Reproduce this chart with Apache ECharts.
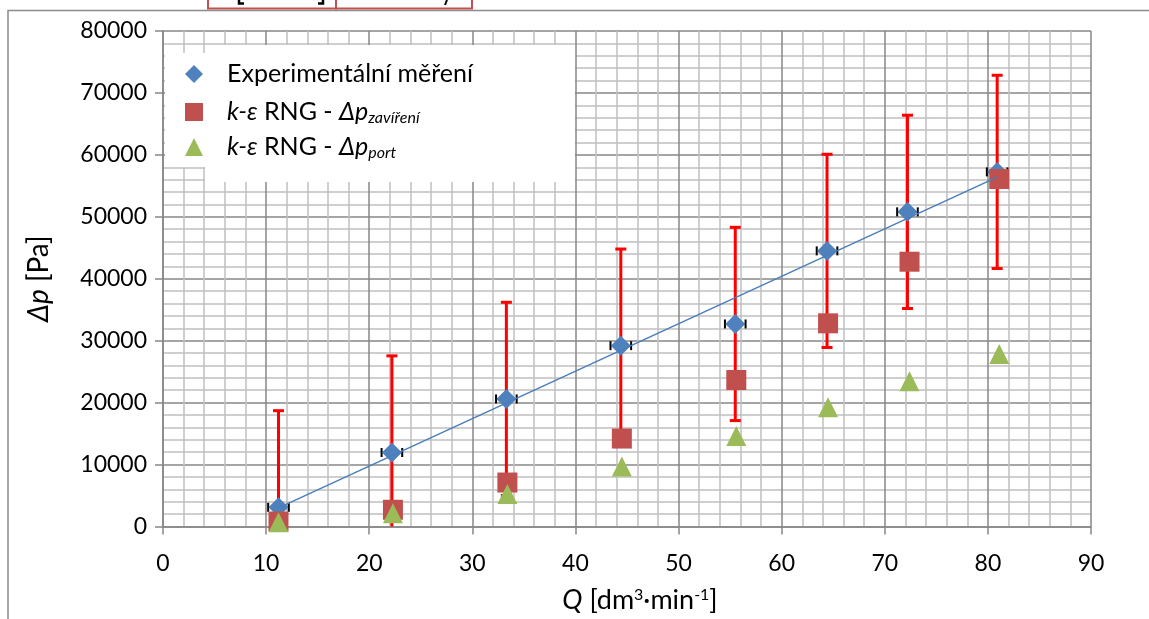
<!DOCTYPE html>
<html><head><meta charset="utf-8">
<script src="https://cdn.jsdelivr.net/npm/echarts@6/dist/echarts.min.js"></script>
<style>html,body{margin:0;padding:0;background:#fff}#c{width:1149px;height:619px}</style>
</head><body><div id="c"></div><script>
// ---- data ----
const expX    = [11.2, 22.2, 33.3, 44.4, 55.5, 64.4, 72.2, 80.9];
const expY    = [3100, 11950, 20600, 29200, 32700, 44500, 50800, 57250];
const expErrX = [1, 1, 1, 1, 1, 1, 1, 1];
const expErrY = [15600, 15600, 15600, 15600, 15600, 15600, 15600, 15600];
const simX    = [11.2, 22.3, 33.4, 44.5, 55.6, 64.5, 72.4, 81.1];
const closeY  = [800, 2700, 7100, 14200, 23650, 32800, 42750, 56100];
const portY   = [700, 2150, 5250, 9700, 14600, 19250, 23450, 27850];
const trendX  = [11.2, 80.9];
const trendY  = [3000, 56400];
const xRange  = [0, 90, 10];
const yRange  = [0, 80000, 10000];
const NAME_EXP = 'Experimentální měření';
const NAME_CLOSE = 'k-ε RNG - Δp zavíření';
const NAME_PORT = 'k-ε RNG - Δp port';

const FONT = 'Lato';
const zip = (a, b) => a.map((v, i) => [v, b[i]]);

const chart = echarts.init(document.getElementById('c'), null, {renderer: 'canvas'});

const legendRich = {
  n: {fontFamily: FONT, fontSize: 25, color: '#000'},
  i: {fontFamily: FONT, fontSize: 25, color: '#000', fontStyle: 'italic'},
  s: {fontFamily: FONT, fontSize: 16, color: '#000', fontStyle: 'italic', padding: [12, 0, 0, 0]}
};
const legendFmt = {
  [NAME_EXP]: '{n|Experimentální měření}',
  [NAME_CLOSE]: '{i|k-ε}{n| RNG - }{i|Δp}{s|zavíření}',
  [NAME_PORT]: '{i|k-ε}{n| RNG - }{i|Δp}{s|port}'
};
function mkLegend(name, icon, centerY) {
  return {
    orient: 'vertical', left: 185, top: centerY - 14,
    itemWidth: 18, itemHeight: 18, padding: 0,
    data: [{name: name, icon: icon}],
    selectedMode: false,
    formatter: n => legendFmt[n],
    textStyle: {rich: legendRich, padding: [0, 0, 0, 19], height: 28, lineHeight: 28}
  };
}

const gridLine = (c, w) => ({show: true, lineStyle: {color: c, width: w}});

const option = {
  backgroundColor: '#fff',
  animation: false,
  grid: {left: 163, right: 58, top: 31, bottom: 92, containLabel: false},
  legend: [
    mkLegend(NAME_EXP, 'diamond', 74),
    mkLegend(NAME_CLOSE, 'rect', 112),
    mkLegend(NAME_PORT, 'triangle', 147)
  ],
  graphic: [
    {type: 'rect', z: -10, silent: true, shape: {x: 8, y: 10.5, width: 1200, height: 700},
     style: {fill: 'none', stroke: '#8c8c8c', lineWidth: 1.5}},
    {type: 'rect', z: 1, silent: true, shape: {x: 165, y: 53, width: 45, height: 114}, style: {fill: '#fff'}},
    {type: 'rect', z: 1, silent: true, shape: {x: 205, y: 45, width: 370, height: 137}, style: {fill: '#fff'}},
    {type: 'rect', z: 10, silent: true, shape: {x: 208, y: -10, width: 128, height: 18.5},
     style: {fill: 'none', stroke: '#C0504D', lineWidth: 2}},
    {type: 'rect', z: 10, silent: true, shape: {x: 336, y: -10, width: 136, height: 18.5},
     style: {fill: 'none', stroke: '#C0504D', lineWidth: 2}},
    {type: 'polyline', z: 10, silent: true, shape: {points: [[239, 0], [239, 3.5], [244, 3.5]]},
     style: {stroke: '#000', lineWidth: 2.5, fill: 'none'}},
    {type: 'polyline', z: 10, silent: true, shape: {points: [[323, 0], [323, 3.5], [318, 3.5]]},
     style: {stroke: '#000', lineWidth: 2.5, fill: 'none'}},
    {type: 'line', z: 10, silent: true, shape: {x1: 447, y1: 0, x2: 445, y2: 5},
     style: {stroke: '#000', lineWidth: 2}}
  ],
  xAxis: {
    type: 'value', min: xRange[0], max: xRange[1], interval: xRange[2],
    name: '{i|Q}{n| [dm}{p|3}{n|·min}{p|-1}{n|]}',
    nameLocation: 'middle', nameGap: 60,
    nameTextStyle: {padding: [0, 0, 0, 26], rich: {
      n: {fontFamily: FONT, fontSize: 27, color: '#000'},
      i: {fontFamily: FONT, fontSize: 27, color: '#000', fontStyle: 'italic'},
      p: {fontFamily: FONT, fontSize: 16, color: '#000', padding: [0, 0, 12, 0]}
    }},
    axisLine: {show: true, onZero: false, lineStyle: {color: '#868686', width: 1.5}},
    axisTick: {show: true, length: 8, lineStyle: {color: '#868686', width: 1.5}},
    axisLabel: {fontFamily: FONT, fontSize: 23, color: '#000', margin: 26},
    splitLine: gridLine('#878787', 1.5),
    minorTick: {show: false, splitNumber: 5},
    minorSplitLine: gridLine('#c0c0c0', 1.5)
  },
  yAxis: {
    type: 'value', min: yRange[0], max: yRange[1], interval: yRange[2],
    name: '{i|Δp}{n| [Pa]}',
    nameLocation: 'middle', nameGap: 110, nameRotate: 90,
    nameTextStyle: {rich: {
      n: {fontFamily: FONT, fontSize: 28, color: '#000'},
      i: {fontFamily: FONT, fontSize: 28, color: '#000', fontStyle: 'italic'}
    }},
    axisLine: {show: true, onZero: false, lineStyle: {color: '#868686', width: 1.5}},
    axisTick: {show: true, length: 8, lineStyle: {color: '#868686', width: 1.5}},
    axisLabel: {fontFamily: FONT, fontSize: 23, color: '#000', margin: 16,
                formatter: v => String(v)},
    splitLine: gridLine('#878787', 1.5),
    minorTick: {show: false, splitNumber: 5},
    minorSplitLine: gridLine('#c0c0c0', 1.5)
  },
  series: [
    {
      type: 'custom', name: 'errors', z: 2, silent: true,
      data: expX.map((x, i) => [x, expY[i], expErrY[i], expErrX[i]]),
      encode: {x: 0, y: 1},
      renderItem: function (params, api) {
        const x = api.value(0), y = api.value(1), ey = api.value(2), ex = api.value(3);
        const low = y - ey;
        const top = api.coord([x, y + ey]);
        const bot = api.coord([x, Math.max(yRange[0], low)]);
        const l = api.coord([x - ex, y]);
        const r = api.coord([x + ex, y]);
        const red = {stroke: '#FF0000', lineWidth: 3};
        const blk = {stroke: '#000', lineWidth: 1.3};
        const ch = [
          {type: 'line', shape: {x1: top[0], y1: top[1], x2: bot[0], y2: bot[1]}, style: red},
          {type: 'line', shape: {x1: top[0] - 5.5, y1: top[1], x2: top[0] + 5.5, y2: top[1]}, style: red},
          {type: 'line', shape: {x1: l[0], y1: l[1], x2: r[0], y2: r[1]}, style: blk},
          {type: 'line', shape: {x1: l[0], y1: l[1] - 4.5, x2: l[0], y2: l[1] + 4.5}, style: {stroke: '#000', lineWidth: 2}},
          {type: 'line', shape: {x1: r[0], y1: r[1] - 4.5, x2: r[0], y2: r[1] + 4.5}, style: {stroke: '#000', lineWidth: 2}}
        ];
        if (low >= yRange[0]) {
          ch.push({type: 'line', shape: {x1: bot[0] - 5.5, y1: bot[1], x2: bot[0] + 5.5, y2: bot[1]}, style: red});
        }
        return {type: 'group', children: ch};
      }
    },
    {type: 'scatter', name: NAME_EXP, z: 3, symbol: 'diamond', symbolSize: 20,
     itemStyle: {color: '#4F81BD', opacity: 1}, data: zip(expX, expY)},
    {type: 'scatter', name: NAME_CLOSE, z: 4, symbol: 'rect', symbolSize: 20,
     itemStyle: {color: '#C0504D', opacity: 1}, data: zip(simX, closeY)},
    {type: 'scatter', name: NAME_PORT, z: 5, symbol: 'triangle', symbolSize: 20,
     itemStyle: {color: '#9BBB59', opacity: 1}, data: zip(simX, portY)},
    {type: 'line', name: 'trend', z: 6, symbol: 'none', silent: true,
     lineStyle: {color: '#4A7EBB', width: 1.5}, data: zip(trendX, trendY)}
  ]
};
chart.setOption(option);
</script></body></html>
